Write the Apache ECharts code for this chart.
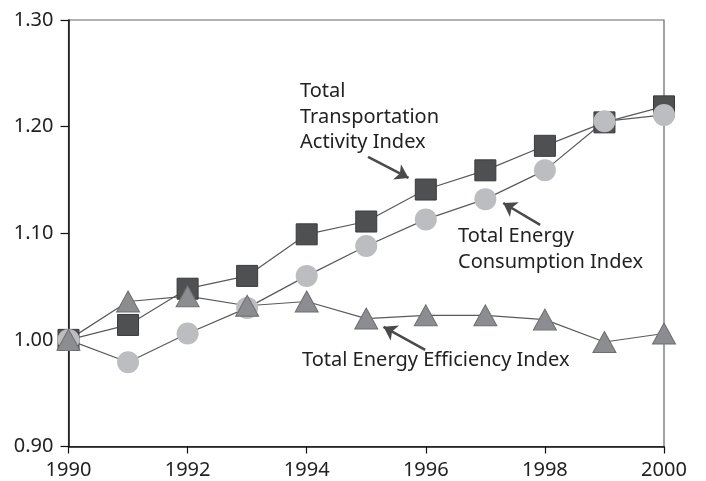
<!DOCTYPE html>
<html lang="en">
<head>
    <meta charset="UTF-8">
    <title>Transportation indices</title>
    <script src="https://cdn.jsdelivr.net/npm/echarts@6/dist/echarts.min.js"></script>
    <style>
        body, html { margin: 0; padding: 0; background: #fff; }
        #chart { width: 706px; height: 481px; }
    </style>
</head>
<body>
<div id="chart"></div>
<script>
    // data
    let years = [1990, 1991, 1992, 1993, 1994, 1995, 1996, 1997, 1998, 1999, 2000];
    let activity = [1.000, 1.014, 1.048, 1.060, 1.099, 1.111, 1.141, 1.159, 1.182, 1.204, 1.219];
    let consumption = [1.000, 0.979, 1.006, 1.030, 1.060, 1.088, 1.113, 1.132, 1.159, 1.205, 1.211];
    let efficiency = [1.000, 1.036, 1.041, 1.032, 1.036, 1.020, 1.023, 1.023, 1.019, 0.998, 1.006];

    const FONT = "Noto Sans";
    const LINE = "#5a5a5a";

    function pairs(vals) {
        return vals.map((v, i) => [years[i], v]);
    }

    function arrow(from, to) {
        return [{coord: from}, {coord: to}];
    }

    let chart = echarts.init(document.getElementById("chart"));

    let options = {
        animation: false,
        grid: {
            left: 68.5, right: 42, top: 20, bottom: 34.5,
            show: true, borderColor: "#666", borderWidth: 1.2
        },
        xAxis: {
            type: "value", min: 1990, max: 2000, interval: 2,
            axisLine: {lineStyle: {color: "#111", width: 1.5}},
            axisTick: {length: 7, lineStyle: {color: "#111", width: 1.2}},
            axisLabel: {
                color: "#222", fontSize: 20, fontFamily: FONT, margin: 14,
                formatter: v => String(v)
            },
            splitLine: {show: false}
        },
        yAxis: {
            type: "value", min: 0.9, max: 1.3, interval: 0.1,
            axisLine: {show: true, lineStyle: {color: "#111", width: 1.5}},
            axisTick: {show: true, length: 8, lineStyle: {color: "#111", width: 1.2}},
            axisLabel: {
                color: "#222", fontSize: 20, fontFamily: FONT, margin: 15,
                formatter: v => v.toFixed(2)
            },
            splitLine: {show: false}
        },
        series: [
            {
                name: "Total Transportation Activity Index",
                type: "line", data: pairs(activity),
                symbol: "rect", symbolSize: 21,
                lineStyle: {color: LINE, width: 1.2},
                itemStyle: {color: "#4f5052", borderColor: "#3a3a3a", borderWidth: 1},
                markLine: {
                    silent: true, symbol: ["none", "arrow"], symbolSize: 13,
                    label: {show: false},
                    lineStyle: {color: "#4a4a4a", width: 2.5, type: "solid"},
                    data: [
                        arrow([1995.03, 1.1716], [1995.71, 1.1519]),
                        arrow([1997.92, 1.1078], [1997.30, 1.1284]),
                        arrow([1995.99, 0.9906], [1995.29, 1.0122])
                    ]
                }
            },
            {
                name: "Total Energy Consumption Index",
                type: "line", data: pairs(consumption),
                symbol: "circle", symbolSize: 22,
                lineStyle: {color: LINE, width: 1.2},
                itemStyle: {color: "#bcbdc0", borderWidth: 0}
            },
            {
                name: "Total Energy Efficiency Index",
                type: "line", data: pairs(efficiency),
                symbol: "triangle", symbolSize: [23, 21],
                lineStyle: {color: LINE, width: 1.2},
                itemStyle: {color: "#8c8d90", borderColor: "#6e6e70", borderWidth: 1}
            }
        ],
        graphic: [
            {
                type: "text", left: 300, top: 79,
                style: {
                    text: "Total\nTransportation\nActivity Index",
                    font: "20px '" + FONT + "'", fill: "#222", lineHeight: 25.5
                }
            },
            {
                type: "text", left: 458, top: 223,
                style: {
                    text: "Total Energy\nConsumption Index",
                    font: "20px '" + FONT + "'", fill: "#222", lineHeight: 26
                }
            },
            {
                type: "text", left: 302, top: 350,
                style: {
                    text: "Total Energy Efficiency Index",
                    font: "20px '" + FONT + "'", fill: "#222"
                }
            }
        ]
    };

    chart.setOption(options);
</script>
</body>
</html>
